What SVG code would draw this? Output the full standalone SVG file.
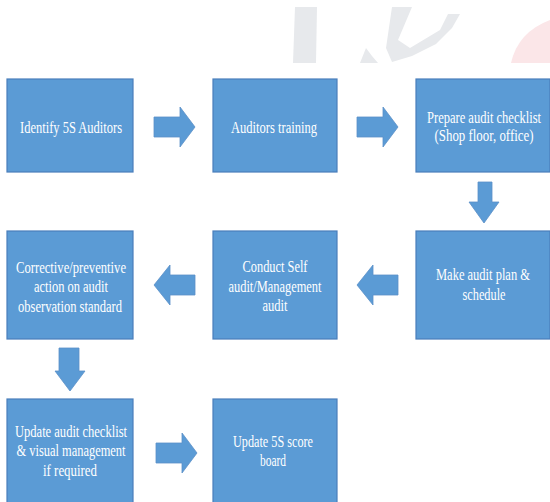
<svg xmlns="http://www.w3.org/2000/svg" width="550" height="502" viewBox="0 0 550 502">
<style>
.box{fill:#5B9BD5;stroke:#4A7EBB;stroke-width:1.2}
.arr{fill:#5B9BD5;stroke:#5A8FC8;stroke-width:0.8}
.t{font-family:"Liberation Serif","Times New Roman",serif;font-size:16px;fill:#ffffff;text-anchor:middle}
.wm{fill:#e7e9ec}
</style>
<rect width="550" height="502" fill="#ffffff"/>
<g id="watermark">
<polygon class="wm" points="295,7 317,7 316,63 293,63"/>
<path class="wm" d="M392,7 L412,7 L398,40 L410,48 L440,30 L448,14 L460,14 L452,28 L436,44 L412,56 L392,62 L386,48 Z"/>
<path class="wm" d="M366,48 L372,56 L378,63 L360,63 Z"/>
<path d="M550,20 Q518,32 511,63 L550,63 Z" fill="#fbe6e8"/>
</g>
<g id="connectors">
<polygon class="arr" points="154,117 180,117 180,107 195,127 180,147 180,137 154,137"/>
<polygon class="arr" points="357,117 383,117 383,107 398,127 383,147 383,137 357,137"/>
<polygon class="arr" points="478,182 492,182 492,202 499,202 484,223 469,202 478,202"/>
<polygon class="arr" points="398,275 373,275 373,265 357,285 373,305 373,295 398,295"/>
<polygon class="arr" points="195,275 170,275 170,265 154,285 170,305 170,295 195,295"/>
<polygon class="arr" points="59,348 79,348 79,371 85,371 70,391 55,371 59,371"/>
<polygon class="arr" points="156,443 182,443 182,433 197,453 182,473 182,463 156,463"/>
</g>
<g id="n1">
<rect class="box" x="7" y="79" width="126" height="93"/>
<text class="t" x="71" y="133" textLength="102" lengthAdjust="spacingAndGlyphs">Identify 5S Auditors</text>
</g>
<g id="n2">
<rect class="box" x="213" y="79" width="124" height="93"/>
<text class="t" x="274" y="133" textLength="86" lengthAdjust="spacingAndGlyphs">Auditors training</text>
</g>
<g id="n3">
<rect class="box" x="416" y="79" width="134" height="93"/>
<text class="t" x="484" y="123" textLength="114" lengthAdjust="spacingAndGlyphs">Prepare audit checklist</text>
<text class="t" x="484" y="141" textLength="99" lengthAdjust="spacingAndGlyphs">(Shop floor, office)</text>
</g>
<g id="n4">
<rect class="box" x="416" y="231" width="134" height="108"/>
<text class="t" x="483" y="280" textLength="94" lengthAdjust="spacingAndGlyphs">Make audit plan &amp;</text>
<text class="t" x="484" y="300" textLength="43" lengthAdjust="spacingAndGlyphs">schedule</text>
</g>
<g id="n5">
<rect class="box" x="213" y="231" width="124" height="108"/>
<text class="t" x="275" y="272" textLength="65" lengthAdjust="spacingAndGlyphs">Conduct Self</text>
<text class="t" x="275" y="292" textLength="93" lengthAdjust="spacingAndGlyphs">audit/Management</text>
<text class="t" x="275" y="311" textLength="25" lengthAdjust="spacingAndGlyphs">audit</text>
</g>
<g id="n6">
<rect class="box" x="7" y="231" width="126" height="108"/>
<text class="t" x="71" y="273" textLength="110" lengthAdjust="spacingAndGlyphs">Corrective/preventive</text>
<text class="t" x="71" y="292" textLength="74" lengthAdjust="spacingAndGlyphs">action on audit</text>
<text class="t" x="70" y="312" textLength="104" lengthAdjust="spacingAndGlyphs">observation standard</text>
</g>
<g id="n7">
<rect class="box" x="7" y="399" width="126" height="110"/>
<text class="t" x="71" y="437" textLength="112" lengthAdjust="spacingAndGlyphs">Update audit checklist</text>
<text class="t" x="71" y="456" textLength="109" lengthAdjust="spacingAndGlyphs">&amp; visual management</text>
<text class="t" x="70" y="476" textLength="54" lengthAdjust="spacingAndGlyphs">if required</text>
</g>
<g id="n8">
<rect class="box" x="213" y="399" width="124" height="110"/>
<text class="t" x="273" y="447" textLength="80" lengthAdjust="spacingAndGlyphs">Update 5S score</text>
<text class="t" x="273" y="466" textLength="26" lengthAdjust="spacingAndGlyphs">board</text>
</g>
</svg>
